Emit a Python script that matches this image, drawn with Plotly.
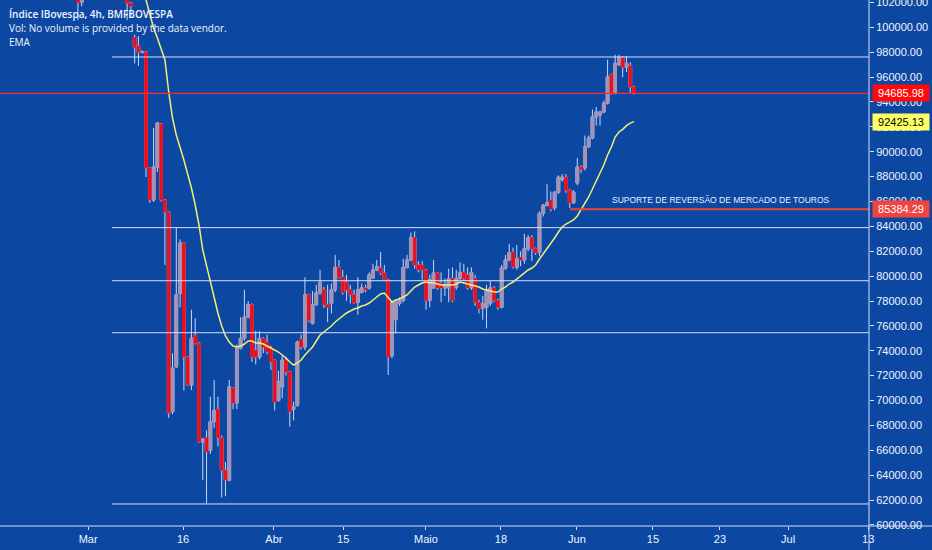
import plotly.graph_objects as go

# IBOV 4h candles (first bar = 28 Feb 2020)
opens = [103500, 102000, 104300, 104900, 105900, 106600, 106100, 105100, 105700, 107200,
         107500, 106800, 104500, 103300, 101950, 99200, 98500, 98000,
         98020, 88700, 86120, 88770, 92230, 86120, 85150, 69100, 72700, 78600,
         82660, 73500, 71250, 75250, 74600, 66660, 67000, 66000, 68300, 69300,
         67000, 64400, 63600, 71000, 69800, 74200, 75000, 76700, 77700, 74050,
         73500, 75000, 74700, 74200, 73250, 70000, 71100, 73250, 72300, 69300,
         69600, 74900, 74300, 78500, 76200, 77700, 78650, 78900, 77700, 77800,
         78900, 80700, 79900, 79500, 78900, 78500, 77900, 78700, 79050, 79050,
         79850, 80500, 80650, 80250, 79700, 73600, 76500, 77800, 78050, 80700,
         81300, 83100, 80900, 80900, 80500, 78050, 79050, 80250, 79400, 79050,
         79050, 79800, 79100, 79800, 80300, 80100, 79050, 79800, 77900, 77400,
         77500, 77800, 79050, 78050, 77500, 80650, 81300, 81900, 80700, 81500,
         81300, 82200, 83100, 82200, 81900, 85050, 85700, 86100, 85500, 86750,
         87750, 87950, 86900, 85900, 87490, 88770, 88700, 90400, 91100, 92800,
         92950, 93200, 93900, 96200, 94700, 97000, 97600, 96800, 96900, 95200]
highs = [104200, 104600, 105200, 106200, 106900, 108200, 106800, 106400, 107500, 108100,
         107800, 107000, 105000, 103700, 102050, 99400, 99300, 98150,
         98100, 88750, 91910, 92400, 92300, 86200, 85200, 73800, 83870, 82950,
         82700, 73550, 77300, 76600, 74700, 66950, 67600, 70300, 71650, 70300,
         67200, 65050, 71650, 71050, 74500, 76700, 78900, 78000, 77800, 75600,
         75600, 75100, 75300, 74400, 73300, 72400, 73600, 73500, 72400, 69900,
         74800, 75300, 79900, 78600, 78800, 79300, 80500, 79130, 79300, 79400,
         81700, 81300, 80500, 80100, 79300, 78900, 79900, 79400, 79300, 80300,
         81000, 81300, 81940, 80900, 79800, 78000, 78100, 78300, 81400, 81700,
         83500, 83600, 81200, 81200, 80600, 80100, 81300, 80300, 80300, 79800,
         80600, 80700, 80500, 81100, 81000, 80700, 80700, 80100, 78100, 78400,
         79300, 79600, 79200, 78200, 80900, 81700, 82600, 82300, 82500, 82000,
         83400, 83300, 83300, 82300, 85200, 85800, 87400, 86800, 86800, 88100,
         88200, 88200, 87000, 86900, 89500, 88900, 91300, 91300, 93400, 93600,
         93300, 94100, 97400, 96300, 97800, 97800, 97700, 97700, 97200, 95300]
lows = [100600, 101700, 103600, 104500, 105300, 105600, 104600, 104700, 105300, 106500,
        106400, 104200, 102600, 100600, 100800, 97100, 96900, 97900,
        87970, 85880, 85960, 88370, 86000, 80900, 68600, 68900, 72600, 77500,
        70800, 71200, 70850, 74500, 66600, 63600, 61750, 65700, 67800, 66300,
        62200, 62300, 63500, 69300, 69300, 74100, 74800, 76600, 73100, 72900,
        73300, 73800, 73700, 72450, 69200, 69900, 70200, 72000, 67900, 68400,
        69500, 74100, 74050, 76300, 76100, 77600, 78500, 77450, 76300, 77000,
        78700, 79800, 78500, 78000, 77800, 77800, 76900, 78600, 78700, 78900,
        79800, 80400, 80100, 79600, 72050, 73400, 75400, 77600, 77900, 80600,
        81200, 80600, 80300, 79700, 77300, 77500, 79000, 78900, 77900, 78400,
        77900, 77900, 78900, 79700, 79600, 78900, 78900, 77600, 77000, 76500,
        75800, 77600, 77900, 77300, 77400, 80500, 81200, 80600, 80500, 80800,
        81000, 82000, 81200, 81700, 81600, 84800, 85600, 85200, 85300, 86600,
        87600, 86700, 85480, 85800, 87300, 88300, 88500, 90300, 91000, 92100,
        92100, 93100, 93800, 94600, 94600, 96900, 96000, 96400, 94700, 94600]
closes = [102000, 104300, 104900, 105900, 106600, 106100, 105100, 105700, 107200, 107500,
          106800, 104500, 103300, 101950, 101700, 98400, 98000, 98050,
          88700, 86120, 88770, 92310, 86120, 85150, 69000, 72600, 78500, 82660,
          73500, 71250, 75000, 74600, 66700, 66900, 65900, 68300, 69200, 67000,
          64400, 63600, 71100, 69800, 74200, 75000, 76700, 77700, 73500, 73500,
          75000, 74300, 73900, 73100, 69900, 71500, 73250, 72300, 69100, 69500,
          74700, 74300, 78500, 76450, 77700, 78650, 79500, 77700, 77500, 78900,
          80700, 79900, 78700, 78900, 78500, 77850, 78900, 79050, 78900, 80100,
          80500, 80750, 80250, 79700, 73500, 77900, 77900, 78050, 80700, 81300,
          83100, 80900, 80500, 80500, 78050, 79700, 80250, 79050, 79050, 79300,
          79800, 78050, 79800, 80300, 79800, 79050, 80300, 77900, 77400, 77800,
          78900, 79050, 78050, 77500, 80650, 81300, 81900, 80750, 81400, 81300,
          82200, 83100, 82200, 81900, 85050, 85700, 85900, 85400, 86750, 87950,
          87950, 86900, 85900, 86750, 88770, 88600, 90400, 91100, 92800, 93200,
          93200, 93900, 96000, 94700, 97100, 97600, 96800, 97100, 95200, 94685.98]

# EMA as drawn on the chart
ema = [108400, 108200, 108000, 107800, 107700, 107600, 107400, 107200, 107100, 107000,
       106900, 106700, 106300, 105800, 105200, 104600, 104100, 103600,
       102200, 101074, 99949, 99145, 98341, 97376, 94803, 92713, 91346, 90381,
       89336, 88210, 87085, 85718, 84110, 82100, 80814, 79608, 78321, 77035,
       75990, 75186, 74703, 74382, 74301, 74382, 74542, 74784, 74784, 74623,
       74623, 74542, 74382, 74221, 74060, 73899, 73658, 73417, 73095, 72854,
       73015, 73256, 73658, 73980, 74301, 74784, 75266, 75507, 75748, 75990,
       76311, 76552, 76794, 77035, 77196, 77356, 77437, 77598, 77678, 77839,
       78080, 78321, 78562, 78643, 78241, 77919, 78080, 78160, 78321, 78482,
       78804, 79125, 79286, 79447, 79527, 79447, 79447, 79366, 79286, 79286,
       79286, 79286, 79366, 79527, 79447, 79366, 79286, 79206, 79125, 78964,
       78884, 78804, 78723, 78723, 78964, 79125, 79366, 79527, 79768, 80010,
       80251, 80492, 80653, 80894, 81376, 81778, 82261, 82663, 83065, 83547,
       83949, 84190, 84351, 84512, 84834, 85316, 85798, 86361, 87004, 87648,
       88291, 88934, 89738, 90381, 91185, 91587, 91800, 92100, 92300, 92425.13]

# drawn horizontal levels
white_levels = [97620, 83900, 79630, 75450, 61680]
last_price = 94685.98
ema_last = 92425.13
support = 85384.29
support_text = "SUPORTE DE REVERSÃO DE MERCADO DE TOUROS"

# time axis labels (bar numbers)
tick_pos = [2.7, 27.8, 51.8, 70.1, 92.0, 111.8, 131.9, 152.0, 169.7, 187.7, 208.9]
tick_text = ["Mar", "16", "Abr", "15", "Maio", "18", "Jun", "15", "23", "Jul", "13"]

BG = "#0c48a2"
LIGHT = "#d5e0ff"
WICK = "#c6d6fb"
RED = "#e8101e"
UP_FILL = "#a492b4"

bars = list(range(len(opens)))
x_range = [-20.6, 209.1]
y_range = [59910, 102200]


def bodies(idx, color):
    # candle bodies only (high/low clipped to the body) so the wick colour doesn't outline them
    return go.Candlestick(
        x=idx, open=[opens[i] for i in idx], close=[closes[i] for i in idx],
        high=[max(opens[i], closes[i]) for i in idx],
        low=[min(opens[i], closes[i]) for i in idx],
        increasing=dict(line=dict(color=color, width=1), fillcolor=color),
        decreasing=dict(line=dict(color=color, width=1), fillcolor=color),
        showlegend=False, hoverinfo="skip")


fig = go.Figure()

# wicks
fig.add_trace(go.Candlestick(
    x=bars, open=opens, high=highs, low=lows, close=closes,
    increasing=dict(line=dict(color=WICK, width=1), fillcolor=UP_FILL),
    decreasing=dict(line=dict(color=WICK, width=1), fillcolor=RED),
    showlegend=False, hoverinfo="skip"))

up = [i for i in bars if closes[i] >= opens[i]]
dn = [i for i in bars if closes[i] < opens[i]]
fig.add_trace(bodies(up, UP_FILL))
fig.add_trace(bodies(dn, RED))

fig.add_trace(go.Scatter(x=bars, y=ema, mode="lines",
                         line=dict(color="#f2ee72", width=1.5),
                         showlegend=False, hoverinfo="skip"))

shapes = []
for lv in white_levels:
    shapes.append(dict(type="line", xref="x", yref="y", x0=9.0, x1=x_range[1],
                       y0=lv, y1=lv, line=dict(color=LIGHT, width=1)))
shapes.append(dict(type="line", xref="paper", yref="y", x0=0, x1=1,
                   y0=last_price, y1=last_price, line=dict(color="#ff2a2a", width=1.2)))
shapes.append(dict(type="line", xref="x", yref="y", x0=130.1, x1=x_range[1],
                   y0=support, y1=support, line=dict(color="#f0423c", width=2)))
# axis frame lines
shapes.append(dict(type="line", xref="paper", yref="paper", x0=0, x1=1.08,
                   y0=0, y1=0, line=dict(color=LIGHT, width=1)))
shapes.append(dict(type="line", xref="paper", yref="paper", x0=1, x1=1,
                   y0=-0.05, y1=1, line=dict(color=LIGHT, width=1)))

ann = []
legend_lines = ["Índice IBovespa, 4h, BMFBOVESPA",
                "Vol: No volume is provided by the data vendor.", "EMA"]
for k, t in enumerate(legend_lines):
    ann.append(dict(text=t, xref="paper", yref="paper", x=0.008, y=1 - (14 + 14 * k) / 526,
                    xanchor="left", yanchor="middle", showarrow=False,
                    font=dict(family="Open Sans", size=10, color="#f0f4ff",
                              weight=600 if k == 0 else 400)))
ann.append(dict(text=support_text, xref="x", yref="y", x=170.0, y=support,
                yanchor="bottom", yshift=2, showarrow=False,
                font=dict(family="Liberation Sans", size=8.5, color="#e8eeff")))
for val, bg, fg in [(last_price, "#ff0a0a", "white"), (ema_last, "#ffff66", "black"),
                    (support, "#f0443e", "white")]:
    ann.append(dict(text=f"{val:.2f}", xref="paper", yref="y", x=1, y=val,
                    xanchor="left", xshift=3, yanchor="middle", showarrow=False,
                    bgcolor=bg, width=54, height=14,
                    font=dict(family="Liberation Sans", size=11, color=fg)))

fig.update_layout(
    width=932, height=550,
    margin=dict(l=0, r=63, t=0, b=24),
    paper_bgcolor=BG, plot_bgcolor=BG,
    boxgap=0.15, boxgroupgap=0.15,
    shapes=shapes, annotations=ann,
    xaxis=dict(range=x_range, showgrid=False, zeroline=False, showline=False,
               rangeslider=dict(visible=False), automargin=False,
               tickmode="array", tickvals=tick_pos, ticktext=tick_text,
               ticks="outside", ticklen=3, tickcolor=LIGHT,
               tickfont=dict(family="Liberation Sans", size=11, color="#f0f4ff")),
    yaxis=dict(range=y_range, side="right", showgrid=False, zeroline=False,
               showline=False, tick0=60000, dtick=2000, tickformat=".2f",
               automargin=False, ticklabeloverflow="allow",
               ticks="outside", ticklen=4, tickcolor=LIGHT,
               tickfont=dict(family="Liberation Sans", size=11, color="#f0f4ff")),
)

fig.write_html("out.html", config={"displayModeBar": False},
               post_script="document.body.style.margin='0';")
